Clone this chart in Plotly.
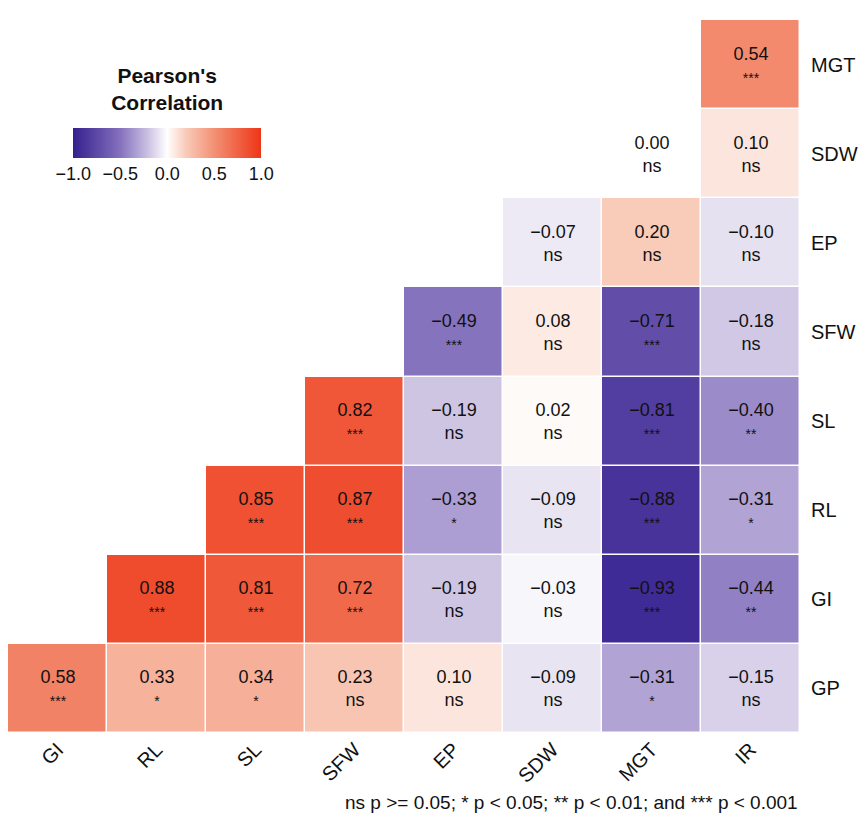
import plotly.graph_objects as go

x_vars = ["GI", "RL", "SL", "SFW", "EP", "SDW", "MGT", "IR"]
y_vars = ["GP", "GI", "RL", "SL", "SFW", "EP", "SDW", "MGT"]

# correlation values, rows = y_vars (bottom to top), cols = x_vars; None = empty
r_GP  = [0.58, 0.33, 0.34, 0.23, 0.10, -0.09, -0.31, -0.15]
r_GI  = [None, 0.88, 0.81, 0.72, -0.19, -0.03, -0.93, -0.44]
r_RL  = [None, None, 0.85, 0.87, -0.33, -0.09, -0.88, -0.31]
r_SL  = [None, None, None, 0.82, -0.19, 0.02, -0.81, -0.40]
r_SFW = [None, None, None, None, -0.49, 0.08, -0.71, -0.18]
r_EP  = [None, None, None, None, None, -0.07, 0.20, -0.10]
r_SDW = [None, None, None, None, None, None, 0.00, 0.10]
r_MGT = [None, None, None, None, None, None, None, 0.54]

s_GP  = ["***", "*", "*", "ns", "ns", "ns", "*", "ns"]
s_GI  = [None, "***", "***", "***", "ns", "ns", "***", "**"]
s_RL  = [None, None, "***", "***", "*", "ns", "***", "*"]
s_SL  = [None, None, None, "***", "ns", "ns", "***", "**"]
s_SFW = [None, None, None, None, "***", "ns", "***", "ns"]
s_EP  = [None, None, None, None, None, "ns", "ns", "ns"]
s_SDW = [None, None, None, None, None, None, "ns", "ns"]
s_MGT = [None, None, None, None, None, None, None, "***"]

cbar_ticks = [-1, -0.5, 0, 0.5, 1]
cbar_labels = ["\u22121.0", "\u22120.5", "0.0", "0.5", "1.0"]

z = [r_GP, r_GI, r_RL, r_SL, r_SFW, r_EP, r_SDW, r_MGT]
sig = [s_GP, s_GI, s_RL, s_SL, s_SFW, s_EP, s_SDW, s_MGT]

def fmt(v):
    return f"{v:.2f}".replace("-", "\u2212")

text = []
for zr, sr in zip(z, sig):
    row = []
    for v, s in zip(zr, sr):
        if v is None:
            row.append("")
        elif s == "ns":
            row.append(f"{fmt(v)}<br>ns")
        else:
            row.append(f"{fmt(v)}<br><span style='font-size:14px'>{s}</span>")
    text.append(row)

colorscale = [
    [0.0, "#34208e"],
    [0.25, "#8470bd"],
    [0.4, "#cbc2e2"],
    [0.5, "#ffffff"],
    [0.6, "#f9cbb9"],
    [0.75, "#f39174"],
    [1.0, "#ee3517"],
]

fig = go.Figure(go.Heatmap(
    z=z, x=x_vars, y=y_vars,
    text=text, texttemplate="%{text}",
    textfont=dict(size=18, color="#111111", family="Liberation Sans, Arial"),
    colorscale=colorscale, zmin=-1, zmax=1,
    xgap=1.5, ygap=1.5, hoverongaps=False,
    colorbar=dict(
        orientation="h", x=0.201, y=0.765, xanchor="center", yanchor="bottom",
        len=0.262, lenmode="fraction", thickness=30, outlinewidth=0,
        title=dict(text="<b>Pearson's<br>Correlation</b>", side="top",
                   font=dict(size=21, color="#111111")),
        tickvals=cbar_ticks, ticktext=cbar_labels,
        tickfont=dict(size=18, color="#111111"),
        ticks="",
    ),
))

fig.update_layout(
    width=858, height=807,
    margin=dict(l=0, r=66, t=12, b=82),
    paper_bgcolor="white", plot_bgcolor="white",
    font=dict(family="Liberation Sans, Arial", color="#111111"),
    xaxis=dict(tickangle=-45, tickfont=dict(size=20), showgrid=False,
               zeroline=False, ticks="", fixedrange=True, automargin=False),
    yaxis=dict(side="right", tickfont=dict(size=20), showgrid=False,
               zeroline=False, ticks="", fixedrange=True, automargin=False,
               ticklabelstandoff=10),
    annotations=[dict(
        text="ns p >= 0.05; * p < 0.05; ** p < 0.01; and *** p < 0.001",
        xref="paper", yref="paper", x=1.0, y=-0.097, xanchor="right",
        yanchor="middle", showarrow=False, font=dict(size=19, color="#111111"),
    )],
)

fig.write_html("out.html")
